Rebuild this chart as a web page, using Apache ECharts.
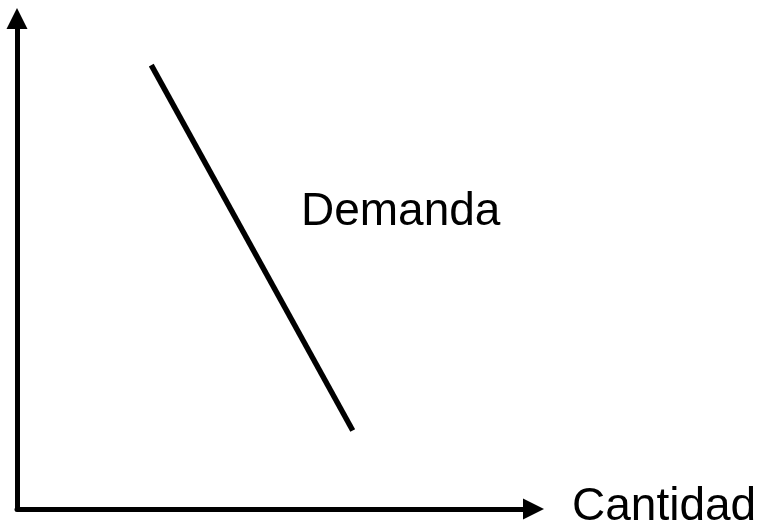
<!DOCTYPE html>
<html>
<head>
<meta charset="utf-8">
<script src="https://cdn.jsdelivr.net/npm/echarts@6/dist/echarts.min.js"></script>
<style>
  html, body { margin: 0; padding: 0; background: #fff; }
  #chart { width: 765px; height: 532px; }
</style>
</head>
<body>
<div id="chart"></div>
<script>
// curva de demanda: dos puntos (cantidad, precio) en escala 0-100
const cantidad = [26, 65]
const precio = [90.5, 16]
const etiquetaCurva = 'Demanda'
const etiquetaEjeX = 'Cantidad'

const fuente = 'Liberation Sans, Arial, sans-serif'

const chart = echarts.init(document.getElementById('chart'))

const ejeComun = {
  type: 'value',
  min: 0,
  max: 100,
  axisLabel: { show: false },
  axisTick: { show: false },
  splitLine: { show: false },
  axisLine: {
    show: true,
    symbol: ['none', 'triangle'],
    symbolSize: [21, 21],
    lineStyle: { color: '#000', width: 5 }
  }
}

chart.setOption({
  animation: false,
  grid: { left: 17, right: 231.5, top: 18.5, bottom: 23 },
  xAxis: ejeComun,
  yAxis: ejeComun,
  series: [{
    type: 'line',
    data: cantidad.map((c, i) => [c, precio[i]]),
    symbol: 'none',
    lineStyle: { color: '#000', width: 5.5, cap: 'butt' }
  }],
  graphic: [
    {
      type: 'text',
      x: 301,
      y: 212,
      style: { text: etiquetaCurva, font: '46px ' + fuente, fill: '#000', verticalAlign: 'middle' }
    },
    {
      type: 'text',
      x: 572,
      y: 507,
      style: { text: etiquetaEjeX, font: '46px ' + fuente, fill: '#000', verticalAlign: 'middle' }
    }
  ]
})
</script>
</body>
</html>
